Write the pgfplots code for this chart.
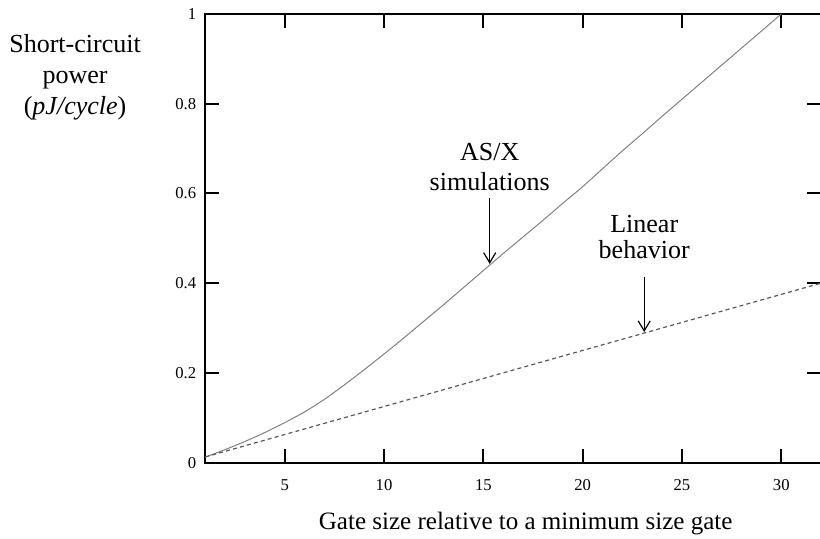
\documentclass[border=0pt]{standalone}
\usepackage{pgfplots}
\pgfplotsset{compat=1.18}
\usepackage{fontspec}
\setmainfont{Liberation Serif}
\usetikzlibrary{arrows.meta}

% AS/X simulation results
\pgfplotstableread{
x y
1 0.012
2 0.029
3 0.047
4 0.067
5 0.089
6 0.113
7 0.141
8 0.173
9 0.207
10 0.242
11 0.278
12 0.315
13 0.352
14 0.390
15 0.428
16 0.466
17 0.503
18 0.540
19 0.578
20 0.615
21 0.655
22 0.695
23 0.733
24 0.772
25 0.810
26 0.848
27 0.886
28 0.924
29 0.962
30 1.000
}\asx

% linear behaviour
\pgfplotstableread{
x y
1 0.0125
5 0.0625
10 0.125
15 0.1875
20 0.25
25 0.3125
30 0.375
32 0.40
}\linear

\begin{document}
\begin{tikzpicture}
\begin{axis}[
  at={(0,0)}, anchor=south west,
  scale only axis, width=307.5pt, height=224pt,
  xmin=1, xmax=32, ymin=0, ymax=1,
  xtick={5,10,15,20,25,30},
  ytick={0,0.2,0.4,0.6,0.8,1},
  yticklabels={0,0.2,0.4,0.6,0.8,1},
  tick align=inside, major tick length=7pt,
  every tick/.style={black, line width=1pt},
  axis line style={line width=1pt},
  tick label style={font=\fontsize{8.3}{9}\selectfont},
  /pgf/number format/assume math mode=true,
  xticklabel style={yshift=-5pt},
  yticklabel style={xshift=-1pt},
  clip=false,
]
\addplot[black!50, line width=0.5pt, smooth, tension=0.4] table {\asx};
\addplot[black!65, line width=0.6pt, dash pattern=on 2pt off 1.6pt] table {\linear};

\node[font=\fontsize{13}{15}\selectfont, align=center] at (axis cs:15.32,0.66) {AS/X\\simulations};
\draw[-{Straight Barb[length=5pt,width=6pt]}, line width=0.6pt] (axis cs:15.32,0.589) -- (axis cs:15.32,0.443);

\node[font=\fontsize{13}{13}\selectfont, align=center] at (axis cs:23.1,0.502) {Linear\\behavior};
\draw[-{Straight Barb[length=5pt,width=6pt]}, line width=0.6pt] (axis cs:23.1,0.413) -- (axis cs:23.1,0.291);
\end{axis}

\node[font=\fontsize{13}{15.5}\selectfont, align=center] at (-65pt,192.5pt) {Short-circuit\\power\\(\textit{pJ/cycle})};
\node[font=\fontsize{12.5}{15}\selectfont] at (160pt,-30.5pt) {Gate size relative to a minimum size gate};

\pgfresetboundingbox
\path[use as bounding box] (-102.5pt,-37.7pt) rectangle (307pt,231pt);
\end{tikzpicture}
\end{document}
